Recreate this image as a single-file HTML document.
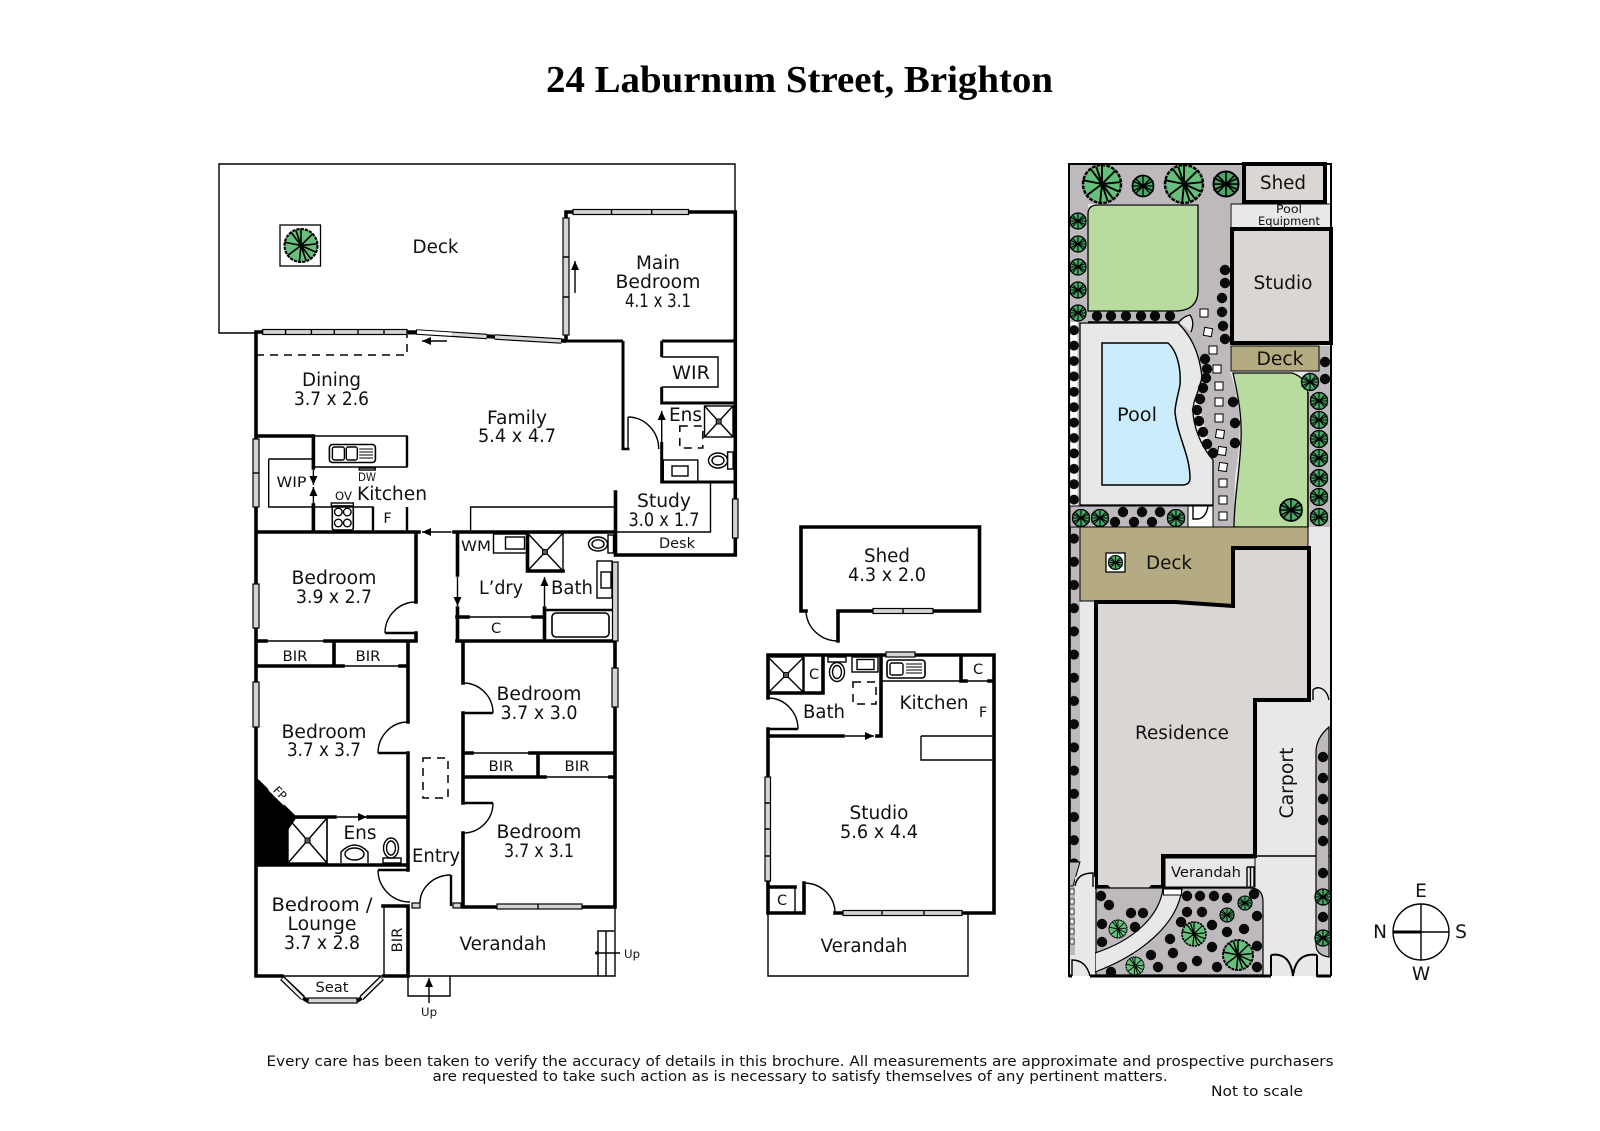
<!DOCTYPE html>
<html><head><meta charset="utf-8"><title>24 Laburnum Street, Brighton</title>
<style>
html,body{margin:0;padding:0;background:#fff}
svg{display:block}
text{font-family:"DejaVu Sans","Liberation Sans",sans-serif;fill:#111;font-size:18.5px;text-anchor:middle}
.s{font-size:14.5px}.x{font-size:11.5px}
.w{fill:none;stroke:#000;stroke-width:3.6;stroke-linecap:square}
.m{fill:none;stroke:#000;stroke-width:2.4;stroke-linecap:butt}
.t{fill:none;stroke:#000;stroke-width:1.4}
.win{fill:#d4d4d4;stroke:#000;stroke-width:1.2}
.dash{fill:none;stroke:#000;stroke-width:1.5;stroke-dasharray:8 6}
.wh{fill:#fff;stroke:#000;stroke-width:1.3}
.ko{fill:none;stroke:#000;stroke-width:5.6}
.ki{fill:none;stroke:#d8d8d8;stroke-width:3.2}
</style></head><body>
<svg width="1600" height="1131" viewBox="0 0 1600 1131" xmlns="http://www.w3.org/2000/svg">
<defs>
<marker id="a" markerUnits="userSpaceOnUse" markerWidth="10" markerHeight="8" refX="9" refY="4" orient="auto"><path d="M0 0L9 4L0 8z" fill="#000"/></marker>
<g id="tr"><circle r="10" fill="#66c07c" stroke="#000" stroke-width="1.3" stroke-dasharray="2 .6"/><path d="M0 0L0-10M0 0L7-7M0 0L10-1M0 0L6 8M0 0L-1 10M0 0L-8 6M0 0L-10-2M0 0L-6-8M-3-9L0 0M3 9L0 0M9 4L0 0" stroke="#000" stroke-width="1" fill="none"/></g>
<g id="tb"><circle r="10" fill="#4aa868" stroke="#000" stroke-width="1.6"/><path d="M0 0L0-10M0 0L7-7M0 0L10 0M0 0L7 7M0 0L0 10M0 0L-7 7M0 0L-10 0M0 0L-7-7M-10-5L10 5M-10 5L10-5" stroke="#000" stroke-width="1.3" fill="none"/></g>
<circle id="b" r="5.2" fill="#0a0a0a"/>
<g id="sh"><path d="M-1-1L1 1M-1 1L1-1" stroke="#000" stroke-width="1"/><rect x="-2.5" y="-2.5" width="5" height="5" fill="#555" stroke="#000" stroke-width="1"/></g>
<pattern id="fa" patternUnits="userSpaceOnUse" x="1069" y="322.5" width="11" height="15.4"><rect width="11" height="15.4" fill="#bdb9bd"/><rect x="1.500" y="0" width="7" height="15.4" fill="#fff"/><circle cx="5" cy="7.7" r="5" fill="#0a0a0a"/></pattern>
<pattern id="fb" patternUnits="userSpaceOnUse" x="1069" y="527" width="11" height="23.2"><rect width="11" height="23.2" fill="#bdb9bd"/><path d="M1.500 0V23.200" stroke="#222" stroke-width="1"/><circle cx="5" cy="11.6" r="5" fill="#0a0a0a"/></pattern>
</defs>
<rect width="1600" height="1131" fill="#fff"/>

<text x="799.5" y="92" textLength="507" lengthAdjust="spacingAndGlyphs" style="font-family:'Liberation Serif',serif;font-weight:bold;font-size:38px;fill:#000">24 Laburnum Street, Brighton</text>

<!-- MAIN PLAN -->
<path class="t" d="M256 333H219V164H735V212"/>
<rect class="wh" x="280" y="225" width="40.5" height="41"/>
<use href="#tr" transform="translate(301 245.5) scale(1.65)"/>

<!-- thick walls -->
<path class="w" d="M256 332V976M256 976H282M384 976H408M408 906V976M383 906H408M256 865H408M408 641V722M408 753V870M256 332H263M408 332H416M256 436H313.400V468M313.400 505V532M256 532H419M416 532V602M416 633V641M256 641H266M325 641H416M454 532H615M334 641V666M256 666H343M400 666H408M297 817H335M368 817H408M457.500 532V575M457.500 608V641M457 641H615M463 641V683M463 713V803M463 833V907H497M582 907H615M615 641V907M463 753H472M530 753H615M538 753V777M463 777H545M610 777H615M457 617H468M533 617H544M544.500 608V641M527.500 533V571H563M566 212H573M688.500 212H735.300M735.300 212V555H615.500M615.500 492V555M566 212V340"/>
<path class="m" style="stroke-width:3" d="M564 341H623M623 341V449M661.700 341H735.300M661.700 341V357M661.700 387V403H735.300M661.700 442V482H735.300"/>
<path class="m" d="M385 633H416M378 753H408M463 713H493M463 803H493M378 870H408M544 610H612M451 875V906M621.500 449H629.500"/>
<path class="t" d="M628 417V449M661.700 357H718V387H661.700M710.500 482V532H615M470.600 532V507H615M268.700 459V507H373V532M268.700 459H313.400M313.400 436H407V467H313.400M265 641H325M343 666H400M472 753H530M545 777H610M468 617H533M327 818V863M384 906V976M282 976H384"/>
<path class="m" d="M407 507V532M373 507V532M407 436V467M313.400 436V468"/>

<!-- windows -->
<rect class="win" x="573" y="209.500" width="115.500" height="5"/><path class="t" d="M611.500 209V215M651.700 209V215"/>
<rect class="win" x="563" y="218" width="6" height="117"/><path class="t" d="M563 257H569M563 297H569"/>
<rect class="win" x="262.700" y="329.500" width="144.300" height="5"/><path class="t" d="M285.600 329V335M311.400 329V335M334.300 329V335M358 329V335M384 329V335"/>
<path d="M408 332.500H417M487 336.200L495 336.700M561 340.500L566 341" stroke="#000" stroke-width="4" fill="none"/>
<path class="ko" d="M416 332L487 336.500M494.600 337L561.500 341"/>
<path d="M417 332L452 334.200" fill="none" stroke="#fff" stroke-width="3.400"/>
<path class="ki" d="M452 334.200L486.500 336.500M495 337L561 341"/>
<rect class="win" x="253" y="439" width="6" height="68"/><path class="t" d="M253 473H259"/>
<rect class="win" x="253" y="584" width="6" height="44"/>
<rect class="win" x="253" y="682" width="6" height="45"/>
<rect class="win" x="732.500" y="499" width="5.500" height="39"/>
<rect class="win" x="612" y="668" width="6" height="39"/>
<rect class="win" x="612.500" y="562" width="5.500" height="79"/>
<rect class="win" x="497" y="904" width="85" height="5"/><path class="t" d="M538 904V909"/>
<rect class="win" x="412" y="903" width="8" height="5"/><rect class="win" x="453" y="903" width="8" height="5"/>
<path class="ko" d="M282 978L303 998M382 978L361.500 998"/>
<path class="ki" d="M282.500 978.500L303 998.500M381.500 978.500L361 998.500" style="stroke:#eee;stroke-width:2.800"/>
<rect class="win" x="308" y="998" width="49" height="5"/>
<path d="M303 998L308 1001M361.500 998L357 1001" stroke="#000" stroke-width="4"/>

<!-- arrows, dashes -->
<path class="t" d="M577 293V261" transform="translate(-2 0)" marker-end="url(#a)"/>
<path class="t" d="M447 341H422" marker-end="url(#a)"/>
<path class="t" d="M451.500 532H422" marker-end="url(#a)"/>
<path class="t" d="M661.700 442V411" marker-end="url(#a)"/>
<path class="t" d="M337 817H367" marker-end="url(#a)"/>
<path class="t" d="M457.500 577V606" marker-end="url(#a)"/>
<path class="t" d="M544.500 606V577" marker-end="url(#a)"/>
<path class="t" d="M313.400 470V485" marker-end="url(#a)"/>
<path class="t" d="M313.400 505V487" marker-end="url(#a)"/>
<path class="dash" d="M256 355H407V335"/>
<rect class="dash" x="679.800" y="426" width="23" height="22"/>
<rect class="dash" x="423" y="758" width="25" height="40"/>

<!-- doors -->
<path class="t" d="M628 417A31 32 0 0 1 658.700 449M416 602A31 31 0 0 0 385 633M408 722A30 31 0 0 0 378 753M463 683A30 30 0 0 1 493 713M493 803A30 30 0 0 1 463 833M378 870A32 32 0 0 0 410 902M420 903A31 28 0 0 1 451 875"/>

<!-- fixtures -->
<rect class="t" x="704.500" y="406" width="28.500" height="31"/><path class="t" d="M704.500 406L733 437M733 406L704.500 437"/><use href="#sh" transform="translate(718.700 421.500)"/>
<rect class="t" x="663.300" y="460" width="34.500" height="22"/><rect class="t" x="672" y="466" width="16" height="10"/>
<ellipse class="t" cx="718" cy="460.500" rx="9.500" ry="7.500"/><ellipse class="t" cx="718" cy="460.500" rx="6" ry="4.500"/><rect class="t" x="727.600" y="452" width="5.500" height="17"/>
<rect class="m" x="329.400" y="444.500" width="46" height="18" rx="3" style="stroke-width:1.600"/><rect class="t" x="332.400" y="447" width="12" height="13" rx="2"/><rect class="t" x="346.300" y="447" width="11" height="13" rx="2"/><path d="M359.200 449H373M359.200 452H373M359.200 455H373M359.200 458H373" class="t" style="stroke-width:1"/>
<rect class="t" x="359.200" y="468" width="16" height="2"/>
<rect class="t" x="331.300" y="503" width="22" height="3"/><rect class="m" x="332.300" y="506" width="21" height="24" rx="2" style="stroke-width:1.600"/><circle class="t" cx="338.300" cy="512" r="3.800"/><circle class="t" cx="347.300" cy="512" r="3.800"/><circle class="t" cx="338.300" cy="523" r="3.800"/><circle class="t" cx="347.300" cy="523" r="3.800"/>
<rect class="t" x="493.500" y="534" width="34" height="19"/><rect class="t" x="505.500" y="537" width="19" height="12"/>
<path class="t" d="M527.500 533L563 571M563 533L527.500 571"/><rect class="t" x="527.500" y="533" width="35.500" height="38"/><use href="#sh" transform="translate(545 552)"/>
<ellipse class="t" cx="598" cy="544" rx="9.500" ry="7"/><ellipse class="t" cx="598" cy="544" rx="6" ry="4.200"/><rect class="t" x="608" y="535" width="5.500" height="18"/>
<rect class="t" x="597" y="561" width="15" height="37"/><rect class="t" x="601" y="572" width="10" height="16"/>
<rect class="t" x="552" y="613" width="57" height="24" rx="4" style="stroke-width:1.600"/>
<path d="M256 777L297 817L288 830V865H256z" fill="#000"/>
<rect x="270" y="785" width="22" height="14" fill="#fff" transform="rotate(45 280 792)"/>
<rect class="t" x="288" y="818" width="39" height="45"/><path class="t" d="M288 818L327 863M327 818L288 863"/><use href="#sh" transform="translate(307.500 840.500)"/>
<ellipse class="t" cx="391" cy="848" rx="7.500" ry="10"/><ellipse class="t" cx="391" cy="848" rx="4.500" ry="7"/><rect class="t" x="383" y="858" width="18" height="5"/>
<path class="t" d="M341 863V852Q354.500 838 368 852V863"/><ellipse class="t" cx="354.500" cy="854" rx="9.500" ry="6"/>
<path class="t" d="M408 976H615V907M408 976V996H450V976"/>
<path class="t" d="M598 976V931H614M606 931V976"/>
<path class="t" d="M595 953H620"/><circle cx="597" cy="953" r="1.800"/>
<path class="t" d="M429 1003V978" marker-end="url(#a)"/>

<!-- labels main -->
<text x="435.500" y="253" textLength="46" lengthAdjust="spacingAndGlyphs">Deck</text>
<text x="658" y="269" textLength="44" lengthAdjust="spacingAndGlyphs">Main</text>
<text x="658" y="288" textLength="85" lengthAdjust="spacingAndGlyphs">Bedroom</text>
<text x="658" y="307" textLength="66" lengthAdjust="spacingAndGlyphs">4.1 x 3.1</text>
<text x="331.500" y="386" textLength="59" lengthAdjust="spacingAndGlyphs">Dining</text>
<text x="331.500" y="405" textLength="75" lengthAdjust="spacingAndGlyphs">3.7 x 2.6</text>
<text x="517" y="424" textLength="60" lengthAdjust="spacingAndGlyphs">Family</text>
<text x="517" y="442" textLength="78" lengthAdjust="spacingAndGlyphs">5.4 x 4.7</text>
<text x="691" y="379" textLength="38" lengthAdjust="spacingAndGlyphs">WIR</text>
<text x="685.500" y="421" textLength="33" lengthAdjust="spacingAndGlyphs">Ens</text>
<text x="291.500" y="487" class="s" textLength="30" lengthAdjust="spacingAndGlyphs">WIP</text>
<text x="367" y="481" class="x" textLength="18" lengthAdjust="spacingAndGlyphs">DW</text>
<text x="343.500" y="500" class="x" textLength="17" lengthAdjust="spacingAndGlyphs">OV</text>
<text x="392" y="500" textLength="70" lengthAdjust="spacingAndGlyphs">Kitchen</text>
<text x="387.500" y="523" class="s">F</text>
<text x="664" y="507" textLength="54" lengthAdjust="spacingAndGlyphs">Study</text>
<text x="664" y="526" textLength="71" lengthAdjust="spacingAndGlyphs">3.0 x 1.7</text>
<text x="677" y="548" class="s" textLength="36" lengthAdjust="spacingAndGlyphs">Desk</text>
<text x="476" y="551" class="s" textLength="30" lengthAdjust="spacingAndGlyphs">WM</text>
<text x="334" y="584" textLength="85" lengthAdjust="spacingAndGlyphs">Bedroom</text>
<text x="334" y="603" textLength="76" lengthAdjust="spacingAndGlyphs">3.9 x 2.7</text>
<text x="501" y="594" textLength="44" lengthAdjust="spacingAndGlyphs">L’dry</text>
<text x="572" y="594" textLength="42" lengthAdjust="spacingAndGlyphs">Bath</text>
<text x="496" y="633" class="s">C</text>
<text x="295" y="661" class="s" textLength="25" lengthAdjust="spacingAndGlyphs">BIR</text>
<text x="368" y="661" class="s" textLength="25" lengthAdjust="spacingAndGlyphs">BIR</text>
<text x="324" y="738" textLength="85" lengthAdjust="spacingAndGlyphs">Bedroom</text>
<text x="324" y="756" textLength="74" lengthAdjust="spacingAndGlyphs">3.7 x 3.7</text>
<text x="539" y="700" textLength="85" lengthAdjust="spacingAndGlyphs">Bedroom</text>
<text x="539" y="719" textLength="77" lengthAdjust="spacingAndGlyphs">3.7 x 3.0</text>
<text x="501" y="771" class="s" textLength="25" lengthAdjust="spacingAndGlyphs">BIR</text>
<text x="577" y="771" class="s" textLength="25" lengthAdjust="spacingAndGlyphs">BIR</text>
<text x="539" y="838" textLength="85" lengthAdjust="spacingAndGlyphs">Bedroom</text>
<text x="539" y="857" textLength="70" lengthAdjust="spacingAndGlyphs">3.7 x 3.1</text>
<text x="360" y="839" textLength="33" lengthAdjust="spacingAndGlyphs">Ens</text>
<text x="436" y="862" textLength="48" lengthAdjust="spacingAndGlyphs">Entry</text>
<text x="322" y="911" textLength="101" lengthAdjust="spacingAndGlyphs">Bedroom /</text>
<text x="322" y="930" textLength="69" lengthAdjust="spacingAndGlyphs">Lounge</text>
<text x="322" y="949" textLength="76" lengthAdjust="spacingAndGlyphs">3.7 x 2.8</text>
<text x="503" y="950" textLength="87" lengthAdjust="spacingAndGlyphs">Verandah</text>
<text x="332" y="992" class="s" textLength="33" lengthAdjust="spacingAndGlyphs">Seat</text>
<text class="s" textLength="25" lengthAdjust="spacingAndGlyphs" transform="translate(402 940) rotate(-90)">BIR</text>
<text class="x" transform="translate(280 793) rotate(45)" dy="4">FP</text>
<text x="632" y="958" class="x" textLength="16" lengthAdjust="spacingAndGlyphs">Up</text>
<text x="429" y="1016" class="x" textLength="16" lengthAdjust="spacingAndGlyphs">Up</text>

<!-- SHED -->
<path class="w" d="M806 611H801V527H979.500V611H838V641" style="stroke-linejoin:miter"/>
<path class="t" d="M806 611A32 31 0 0 0 838 641"/>
<rect class="win" x="873" y="608.500" width="60" height="5"/><path class="t" d="M903 608V614"/>
<text x="887" y="562" textLength="46" lengthAdjust="spacingAndGlyphs">Shed</text>
<text x="887" y="581" textLength="78" lengthAdjust="spacingAndGlyphs">4.3 x 2.0</text>

<!-- STUDIO -->
<path class="w" d="M768 698V655H994V913H962M835 913H843M768 729V913H804V883M768 736H843M877 736H881V655M961 655V681H966M989 681H994M768 887H795M768 693H823V657"/>
<path class="m" d="M768 729H798"/>
<path class="t" d="M881 681H961M966 681H989M795 887V913M768 913V976H968V913M921 736V760H992M921 736H992"/>
<rect class="win" x="886" y="652" width="29" height="5"/>
<rect class="win" x="765" y="777" width="5.500" height="104"/><path class="t" d="M765 803H770M765 829H770M765 856H770"/>
<rect class="win" x="843" y="910.500" width="119" height="5"/><path class="t" d="M882 910V916M924 910V916"/>
<path class="t" d="M768 698A30 31 0 0 1 798 729M804 883A31 30 0 0 1 835 913"/>
<path class="t" d="M845 736H874" marker-end="url(#a)"/>
<rect class="t" x="768" y="657" width="35" height="36"/><path class="t" d="M769 658L803 692M803 658L769 692"/><use href="#sh" transform="translate(786 675)"/>
<path class="t" d="M804 657V693"/>
<rect class="t" x="828" y="657" width="18" height="5"/><ellipse class="t" cx="837" cy="672" rx="7.500" ry="9.500"/><ellipse class="t" cx="837" cy="672" rx="4.500" ry="6.500"/>
<rect class="t" x="852" y="657" width="26" height="15"/><rect class="t" x="857" y="659.500" width="17" height="10"/>
<rect class="dash" x="853" y="682" width="23" height="22"/>
<rect class="m" x="887" y="660" width="38" height="18" rx="3" style="stroke-width:1.600"/><rect class="t" x="890" y="663" width="13" height="12" rx="2"/><path class="t" style="stroke-width:1" d="M906 664H922M906 667H922M906 670H922M906 673H922"/>
<text x="814" y="679" class="s">C</text>
<text x="978" y="674" class="s">C</text>
<text x="934" y="709" textLength="69" lengthAdjust="spacingAndGlyphs">Kitchen</text>
<text x="983" y="717" class="s">F</text>
<text x="824" y="718" textLength="42" lengthAdjust="spacingAndGlyphs">Bath</text>
<text x="879" y="819" textLength="59" lengthAdjust="spacingAndGlyphs">Studio</text>
<text x="879" y="838" textLength="78" lengthAdjust="spacingAndGlyphs">5.6 x 4.4</text>
<text x="782" y="905" class="s">C</text>
<text x="864" y="952" textLength="87" lengthAdjust="spacingAndGlyphs">Verandah</text>

<!-- SITE PLAN -->
<rect x="1069" y="164" width="262" height="812" fill="#e8e8e8"/>
<rect x="1325" y="164" width="6" height="40" fill="#fff"/>
<rect x="1069" y="164" width="174" height="40" fill="#bdb9bd"/>
<rect x="1069" y="204" width="19" height="118" fill="#bdb9bd"/>
<path d="M1088 300H1178L1198 204H1230V372C1240 400 1243 430 1235 477L1234 527H1213V460L1178 323H1088z" fill="#bdb9bd"/>
<rect x="1069" y="322" width="11" height="205" fill="url(#fa)"/>
<rect x="1069" y="527" width="11" height="335" fill="url(#fb)"/>
<path d="M1080 862L1073 886H1069V862z" fill="#bdb9bd" stroke="#000" stroke-width="1"/>
<path d="M1088 214Q1088 205 1098 205H1198V290Q1198 311 1175 311H1088z" fill="#b8dca0" stroke="#000" stroke-width="1.300"/>
<path class="t" d="M1088 322H1180"/>
<path d="M1080 323H1178C1190 335 1199 350 1202 377C1198 395 1193 400 1193 410C1193 425 1200 445 1213 460V505H1080z" fill="#e8e8e8" stroke="#000" stroke-width="1.300"/>
<path d="M1179 322Q1184 316 1190 315Q1195 322 1191 332" fill="#e8e8e8" stroke="#000" stroke-width="1.300"/>
<path d="M1102 343H1168C1178 352 1181 370 1180 385C1178 395 1175 405 1175 412C1177 435 1190 455 1190 478Q1190 485 1182 485H1102z" fill="#cbecfb" stroke="#000" stroke-width="1.500"/>
<path d="M1233 373H1292Q1308 378 1308 395V527H1234C1234 500 1240 470 1241 440C1242 415 1238 395 1233 373z" fill="#b8dca0" stroke="#000" stroke-width="1.300"/>
<rect x="1308" y="346" width="23" height="181" fill="#bdb9bd"/><path class="t" d="M1308 392V527"/>
<rect x="1070" y="506" width="118" height="21" fill="#bdb9bd" stroke="#000" stroke-width="1"/>
<rect x="1188" y="506" width="25" height="21" fill="#fff" stroke="#000" stroke-width="1"/>
<path class="t" d="M1193 506V519H1198Q1206 518 1208 506"/>
<rect x="1231" y="204" width="100" height="24" fill="#e8e8e8" stroke="#000" stroke-width="1"/>
<rect x="1231" y="346" width="88" height="25" fill="#b5ab82" stroke="#000" stroke-width="1"/>

<g fill="#fff" stroke="#000" stroke-width="1"><rect x="1200" y="309" width="8" height="8"/><rect x="1204" y="328" width="8" height="8" transform="rotate(10 1208 332)"/><rect x="1209" y="346" width="8" height="8"/><rect x="1213" y="365" width="8" height="8"/><rect x="1215" y="382" width="8" height="8"/><rect x="1215" y="398" width="8" height="8"/><rect x="1215" y="414" width="8" height="8"/><rect x="1216" y="430" width="8" height="8" transform="rotate(8 1220 434)"/><rect x="1218" y="447" width="8" height="8" transform="rotate(8 1222 451)"/><rect x="1219" y="463" width="8" height="8" transform="rotate(8 1223 467)"/><rect x="1219" y="479" width="8" height="8"/><rect x="1219" y="496" width="8" height="8"/><rect x="1219" y="512" width="8" height="8"/></g>

<g>
<use href="#b" x="1097" y="316"/><use href="#b" x="1111" y="316"/><use href="#b" x="1126" y="316"/><use href="#b" x="1141" y="316"/><use href="#b" x="1155" y="316"/><use href="#b" x="1170" y="316"/>
<use href="#b" x="1225" y="270"/><use href="#b" x="1225" y="283"/><use href="#b" x="1222" y="298"/><use href="#b" x="1222" y="312"/><use href="#b" x="1223" y="326"/><use href="#b" x="1225" y="339"/>
<use href="#b" x="1205" y="359"/><use href="#b" x="1207" y="369"/><use href="#b" x="1206" y="378"/><use href="#b" x="1203" y="388"/><use href="#b" x="1200" y="399"/><use href="#b" x="1197" y="410"/><use href="#b" x="1199" y="421"/><use href="#b" x="1203" y="432"/><use href="#b" x="1207" y="444"/><use href="#b" x="1213" y="453"/>
<use href="#b" x="1233" y="402"/><use href="#b" x="1235" y="423"/><use href="#b" x="1235" y="443"/>
<use href="#b" x="1325" y="362"/><use href="#b" x="1325" y="379"/>
<use href="#b" x="1123" y="512"/><use href="#b" x="1142" y="512"/><use href="#b" x="1160" y="512"/><use href="#b" x="1115" y="522"/><use href="#b" x="1134" y="522"/><use href="#b" x="1152" y="522"/>
</g>
<use href="#tr" transform="translate(1102 184) scale(1.9)"/>
<use href="#tb" transform="translate(1143 186) scale(1.05)"/>
<use href="#tr" transform="translate(1184 184) scale(1.9)"/>
<use href="#tb" transform="translate(1226 184) scale(1.25)"/>
<use href="#tb" transform="translate(1078 221) scale(.8)"/><use href="#tb" transform="translate(1078 244) scale(.8)"/><use href="#tb" transform="translate(1078 267) scale(.8)"/><use href="#tb" transform="translate(1078 290) scale(.8)"/><use href="#tb" transform="translate(1078 313) scale(.8)"/>
<use href="#tb" transform="translate(1291 510) scale(1.1)"/><use href="#tb" transform="translate(1310 382) scale(.85)"/>
<use href="#tb" transform="translate(1319 401) scale(.85)"/><use href="#tb" transform="translate(1319 420) scale(.85)"/><use href="#tb" transform="translate(1319 439) scale(.85)"/><use href="#tb" transform="translate(1319 458) scale(.85)"/><use href="#tb" transform="translate(1319 478) scale(.85)"/><use href="#tb" transform="translate(1319 497) scale(.85)"/><use href="#tb" transform="translate(1319 517) scale(.85)"/>
<use href="#tb" transform="translate(1081 518) scale(.85)"/><use href="#tb" transform="translate(1100 518) scale(.85)"/><use href="#tb" transform="translate(1176 518) scale(.85)"/>

<!-- big deck -->
<path d="M1080 527H1308V548H1233V605L1175 602H1095V601H1080z" fill="#b5ab82" stroke="#000" stroke-width="1"/>
<rect class="wh" x="1106" y="553" width="19" height="19"/><use href="#tb" transform="translate(1115.500 562.500) scale(.7)"/>
<!-- residence -->
<path d="M1233 548H1309V700H1255V856H1163V887H1152L1142 898H1118L1107 887H1096V602H1175L1233 606z" fill="#d9d6d4" stroke="#000" stroke-width="4"/>
<rect x="1257" y="702" width="60" height="154" fill="#e8e8e8"/>
<path class="t" d="M1255 856H1331"/>
<rect x="1165" y="858" width="90" height="29" fill="#e8e8e8" stroke="#000" stroke-width="1"/>
<path class="t" d="M1247 867H1254V887M1247 867V887M1250.500 867V887"/>
<!-- right strip -->
<path d="M1329 727Q1316 738 1316 752V945Q1316 955 1329 957z" fill="#bdb9bd" stroke="#000" stroke-width="1.200"/>
<path class="t" d="M1313 700V690Q1316 687 1320 688Q1327 690 1329 700"/>
<use href="#b" x="1323" y="757"/><use href="#b" x="1323" y="799"/><use href="#b" x="1323" y="820"/><use href="#b" x="1323" y="841"/><use href="#b" x="1323" y="778"/><use href="#b" x="1323" y="873"/><use href="#b" x="1323" y="917"/>
<use href="#tb" transform="translate(1323 897) scale(.8)"/><use href="#tb" transform="translate(1323 938) scale(.8)"/>
<!-- front garden -->
<path d="M1096 888H1250Q1263 888 1263 902V975H1096z" fill="#bdb9bd" stroke="#000" stroke-width="1.200"/>
<path d="M1163 888H1182C1178 925 1140 955 1095 972V953C1135 940 1160 915 1163 888z" fill="#e8e8e8" stroke="#000" stroke-width="1.200"/>
<rect x="1163.500" y="889" width="18" height="6" fill="#fff" stroke="#000" stroke-width="1"/>
<rect x="1075" y="877" width="20" height="99" fill="#e8e8e8"/>
<path class="t" d="M1075 886Q1077 873 1093 873V887"/>
<rect x="1069" y="887" width="6" height="68" fill="#bdb9bd"/>
<g fill="#fff" stroke="#000" stroke-width=".7"><rect x="1070" y="889" width="4" height="5"/><rect x="1070" y="899" width="4" height="5"/><rect x="1070" y="909" width="4" height="5"/><rect x="1070" y="919" width="4" height="5"/><rect x="1070" y="929" width="4" height="5"/><rect x="1070" y="939" width="4" height="5"/></g>
<path class="t" d="M1072 976V960Q1086 960 1090 976"/>
<use href="#b" x="1101" y="896"/><use href="#b" x="1109" y="905"/><use href="#b" x="1131" y="913"/><use href="#b" x="1143" y="913"/><use href="#b" x="1102" y="924"/><use href="#b" x="1135" y="927"/><use href="#b" x="1102" y="942"/><use href="#b" x="1187" y="896"/><use href="#b" x="1200" y="896"/><use href="#b" x="1214" y="896"/><use href="#b" x="1227" y="898"/><use href="#b" x="1254" y="894"/><use href="#b" x="1257" y="916"/><use href="#b" x="1187" y="912"/><use href="#b" x="1202" y="912"/><use href="#b" x="1181" y="922"/><use href="#b" x="1212" y="925"/><use href="#b" x="1244" y="929"/><use href="#b" x="1227" y="932"/><use href="#b" x="1170" y="939"/><use href="#b" x="1212" y="947"/><use href="#b" x="1257" y="946"/><use href="#b" x="1151" y="955"/><use href="#b" x="1173" y="953"/><use href="#b" x="1197" y="961"/><use href="#b" x="1158" y="967"/><use href="#b" x="1182" y="967"/><use href="#b" x="1217" y="967"/><use href="#b" x="1257" y="967"/><use href="#b" x="1111" y="972"/>
<use href="#tr" transform="translate(1118 929) scale(.9)"/><use href="#tb" transform="translate(1245 903) scale(.7)"/><use href="#tb" transform="translate(1227 915) scale(.7)"/><use href="#tr" transform="translate(1194 934) scale(1.2)"/><use href="#tr" transform="translate(1238 955) scale(1.500)"/><use href="#tr" transform="translate(1135 966) scale(.9)"/>
<!-- boundary -->
<path d="M1331 976V164H1069V976H1072M1090 976H1271M1271 976V955M1271 955Q1290 952 1293 976Q1296 952 1317 955M1317 955V976H1331" fill="none" stroke="#000" stroke-width="2"/>
<path d="M1069 976H1072M1090 976H1271M1317 976H1331" stroke="#000" stroke-width="3"/>
<rect x="1244" y="164" width="81" height="38" fill="#d9d6d4" stroke="#000" stroke-width="4"/>
<rect x="1232" y="229" width="99" height="114" fill="#d9d6d4" stroke="#000" stroke-width="4"/>
<text x="1283" y="189" textLength="46" lengthAdjust="spacingAndGlyphs">Shed</text>
<text x="1289" y="213" class="x" textLength="26" lengthAdjust="spacingAndGlyphs">Pool</text>
<text x="1289" y="225" class="x" textLength="62" lengthAdjust="spacingAndGlyphs">Equipment</text>
<text x="1283" y="289" textLength="59" lengthAdjust="spacingAndGlyphs">Studio</text>
<text x="1280" y="365" textLength="47" lengthAdjust="spacingAndGlyphs">Deck</text>
<text x="1137" y="421" textLength="40" lengthAdjust="spacingAndGlyphs">Pool</text>
<text x="1169" y="569" textLength="46" lengthAdjust="spacingAndGlyphs">Deck</text>
<text x="1182" y="739" textLength="94" lengthAdjust="spacingAndGlyphs">Residence</text>
<text textLength="71" lengthAdjust="spacingAndGlyphs" transform="translate(1293 783) rotate(-90)">Carport</text>
<text x="1206" y="877" class="s" textLength="70" lengthAdjust="spacingAndGlyphs">Verandah</text>

<!-- compass -->
<circle class="t" cx="1421" cy="932" r="28"/>
<path class="t" d="M1421 904V960M1421 932H1449"/>
<path d="M1393 932H1421" stroke="#000" stroke-width="3"/>
<text x="1421" y="897">E</text>
<text x="1421" y="980">W</text>
<text x="1380" y="938">N</text>
<text x="1461" y="938">S</text>

<!-- footer -->
<text x="800" y="1066" class="s" textLength="1067" lengthAdjust="spacingAndGlyphs" style="font-size:14px">Every care has been taken to verify the accuracy of details in this brochure.  All measurements are approximate and prospective purchasers</text>
<text x="800" y="1081" class="s" textLength="735" lengthAdjust="spacingAndGlyphs" style="font-size:14px">are requested to take such action as is necessary to satisfy themselves of any pertinent matters.</text>
<text x="1257" y="1096" class="s" textLength="92" lengthAdjust="spacingAndGlyphs" style="font-size:14px">Not to scale</text>
</svg>
</body></html>
